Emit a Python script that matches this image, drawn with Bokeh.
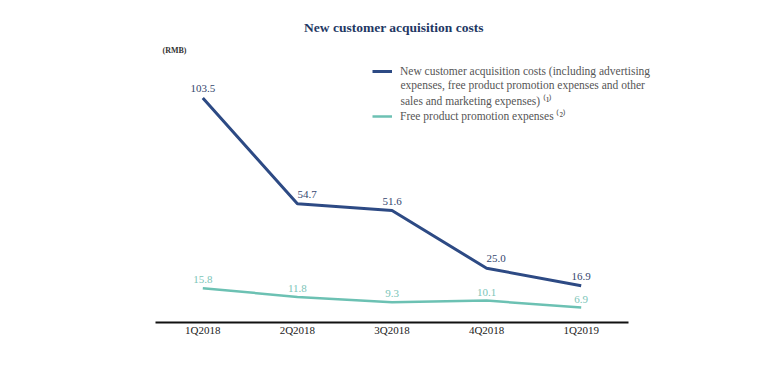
from bokeh.plotting import figure
from bokeh.models import Range1d, ColumnDataSource, Legend, LegendItem, Label, FixedTicker
from bokeh.core.properties import value
from bokeh.embed import file_html
from bokeh.resources import INLINE

quarters = ["1Q2018", "2Q2018", "3Q2018", "4Q2018", "1Q2019"]
acq_costs = [103.5, 54.7, 51.6, 25.0, 16.9]
promo_costs = [15.8, 11.8, 9.3, 10.1, 6.9]
acq_labels = ["103.5", "54.7", "51.6", "25.0", "16.9"]
promo_labels = ["15.8", "11.8", "9.3", "10.1", "6.9"]

# style only: horizontal alignment of the dark-series value labels
acq_align = ["center", "left", "center", "left", "center"]

DARK = "#2d4a84"
TEAL = "#6cc1b3"
SERIF = "Liberation Serif"

idx = list(range(len(quarters)))
src = ColumnDataSource(dict(x=idx, a=acq_costs, p=promo_costs,
                            al=acq_labels, pl=promo_labels, aa=acq_align))

p = figure(width=756, height=350, output_backend="svg", toolbar_location=None,
           x_range=Range1d(-0.5, 5.261), y_range=Range1d(0, 144.7),
           min_border_left=155, min_border_right=56, min_border_top=8, min_border_bottom=28)
p.outline_line_color = None
p.xgrid.visible = False
p.ygrid.visible = False
p.yaxis.visible = False

ax = p.xaxis[0]
ax.bounds = (-0.5, len(quarters) - 0.5)
ax.ticker = FixedTicker(ticks=idx)
ax.major_label_overrides = {i: q for i, q in zip(idx, quarters)}
ax.axis_line_width = 2
ax.axis_line_color = "#111111"
ax.major_tick_line_color = None
ax.minor_tick_line_color = None
ax.major_tick_out = 0
ax.major_tick_in = 0
ax.major_label_text_font = SERIF
ax.major_label_text_font_size = "11px"
ax.major_label_text_color = "#222222"
ax.major_label_standoff = 1

r1 = p.line("x", "a", source=src, line_color=DARK, line_width=3)
r2 = p.line("x", "p", source=src, line_color=TEAL, line_width=2.5)

p.text("x", "a", text="al", source=src, text_font=value(SERIF), text_font_size="11px",
       text_color="#34466e", text_align="aa", text_baseline="bottom", y_offset=-6)
p.text("x", "p", text="pl", source=src, text_font=value(SERIF), text_font_size="11px",
       text_color="#7cc5b8", text_align="center", text_baseline="bottom", y_offset=-5)

p.add_layout(Label(x=2.02, y=135.9, text="New customer acquisition costs",
                   text_font=SERIF, text_font_size="13.5px", text_font_style="bold",
                   text_color="#1f3864", text_align="center", text_baseline="middle"))
p.add_layout(Label(x=-0.426, y=125.3, text="(RMB)", text_font=SERIF, text_font_size="8px",
                   text_font_style="bold", text_color="#333333", text_align="left",
                   text_baseline="middle"))

def make_legend(item, loc):
    lg = Legend(items=[item], location=loc)
    lg.label_text_font = SERIF
    lg.label_text_font_size = "11.5px"
    lg.label_text_color = "#555555"
    lg.glyph_width = 20
    lg.glyph_height = 14
    lg.label_height = 14
    lg.label_standoff = 8
    lg.spacing = 0
    lg.padding = 0
    lg.margin = 0
    lg.border_line_alpha = 0
    lg.background_fill_alpha = 0
    p.add_layout(lg)

make_legend(LegendItem(label="New customer acquisition costs (including advertising",
                       renderers=[r1]), (217, 244))
make_legend(LegendItem(label="Free product promotion expenses ⁽²⁾", renderers=[r2]), (217, 199))

p.add_layout(Label(x=2.09, y=112.0,
                   text="expenses, free product promotion expenses and other\nsales and marketing expenses) ⁽¹⁾",
                   text_font=SERIF, text_font_size="11.5px", text_color="#555555",
                   text_align="left", text_baseline="top", text_line_height=1.26))

open("out.html", "w").write(file_html(p, INLINE))
